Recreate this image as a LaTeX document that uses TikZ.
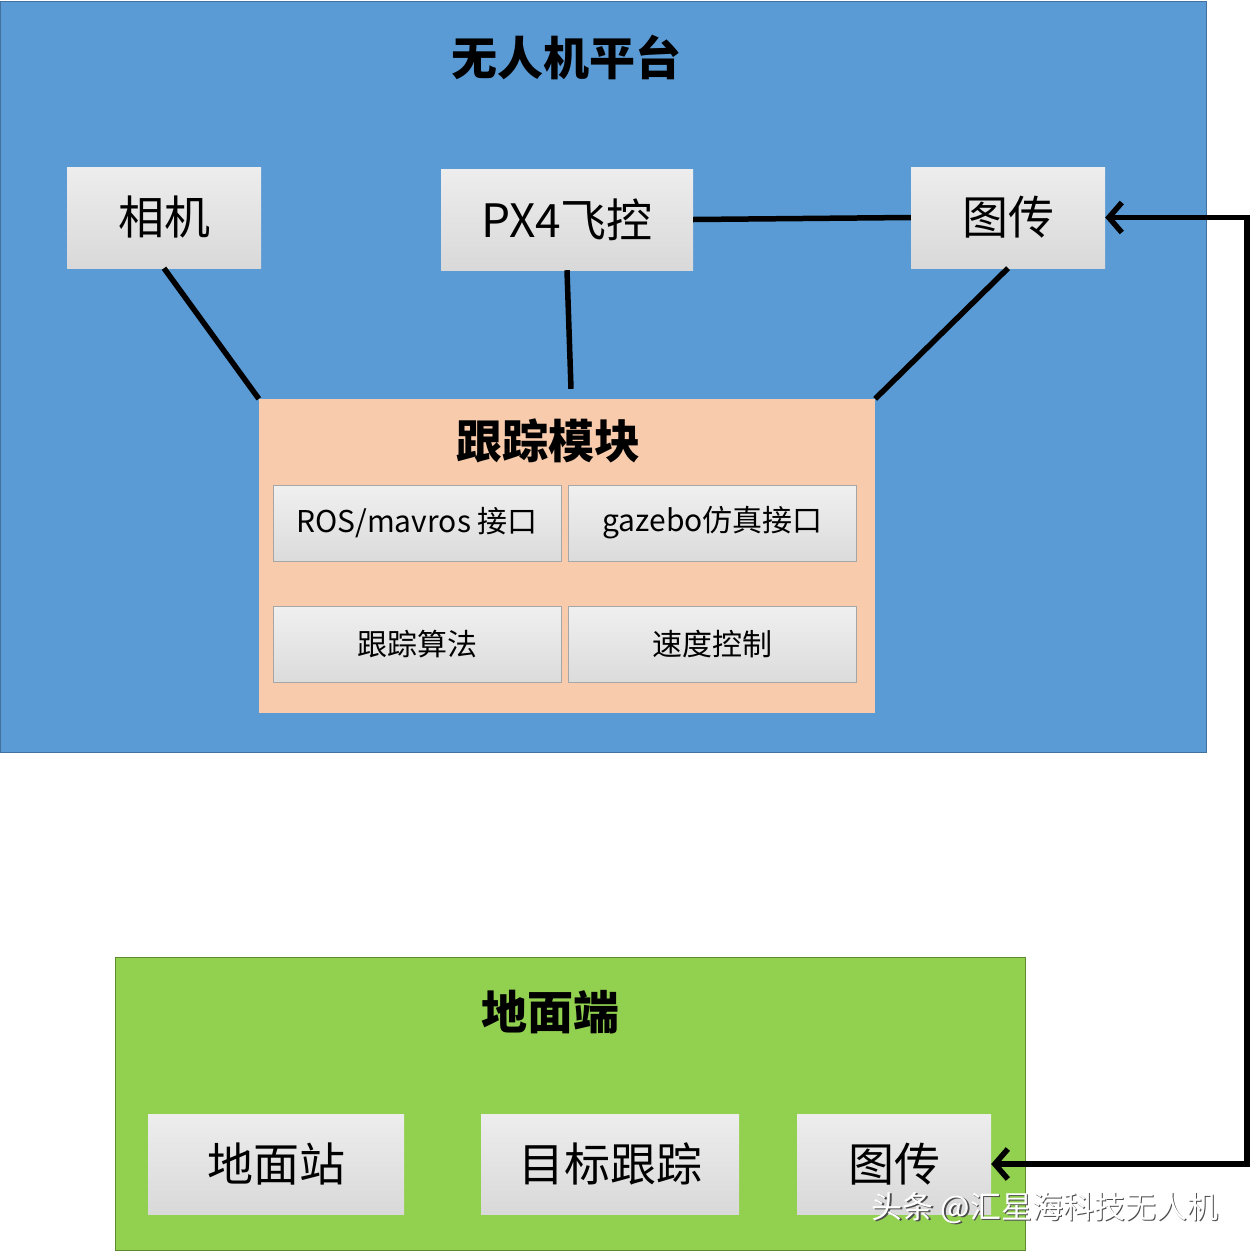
\documentclass[tikz,border=0pt]{standalone}
\usepackage{fontspec}
\setmainfont{Noto Sans CJK SC}
\usetikzlibrary{arrows.meta}
\definecolor{skyblue}{HTML}{5B9BD5}
\definecolor{skyedge}{HTML}{41719C}
\definecolor{salmon}{HTML}{F8CBAD}
\definecolor{leaf}{HTML}{92D050}
\definecolor{leafedge}{HTML}{5E8A2E}
\tikzset{
  grayblock/.style={top color=gray!14, bottom color=gray!30, draw=none, inner sep=0pt, font=\fontsize{46}{50}\selectfont},
  subblock/.style={top color=gray!12, bottom color=gray!28, draw=gray!70, line width=0.8pt, inner sep=0pt, minimum width=288, minimum height=76, font=\fontsize{30}{34}\selectfont},
  link/.style={line width=5.5pt, black},
  title/.style={font=\fontsize{46}{50}\selectfont\bfseries, inner sep=0pt},
}
\begin{document}
\begin{tikzpicture}[x=1pt,y=-1pt]
\useasboundingbox (0,0) rectangle (1252,1254);
\fill[white] (0,0) rectangle (1252,1254);
% platform
\node[draw=skyedge, fill=skyblue, line width=1pt, minimum width=1206, minimum height=751, inner sep=0pt] (plat) at (603.5,376.5) {};
\node[title] (plattitle) at (566,57) {无人机平台};
\node[grayblock, minimum width=194, minimum height=101] (cam) at (164,217.5) {相机};
\node[grayblock, minimum width=252, minimum height=101] (px4) at (567,219.5) {PX4飞控};
\node[grayblock, minimum width=194, minimum height=101] (imgtx) at (1008,217.5) {图传};
% tracking module
\node[fill=salmon, minimum width=616, minimum height=314, inner sep=0pt] (track) at (567,556) {};
\node[title] (tracktitle) at (548,441) {跟踪模块};
\node[subblock] (ros) at (417,523) {ROS/mavros 接口};
\node[subblock] (gaz) at (712.5,523) {gazebo仿真接口};
\node[subblock] (algo) at (417,644.5) {跟踪算法};
\node[subblock] (speed) at (712.5,644.5) {速度控制};
% connectors
\draw[link] (cam.south) -- (track.north west);
\draw[link] (px4.south) -- ([xshift=4pt,yshift=10pt]track.north);
\draw[link] (imgtx.south) -- (track.north east);
\draw[link] (px4.east) -- (imgtx.west);
% ground
\node[draw=leafedge, fill=leaf, line width=1pt, minimum width=910, minimum height=293, inner sep=0pt] (ground) at (570,1103.5) {};
\node[title] (groundtitle) at (550,1012) {地面端};
\node[grayblock, minimum width=256, minimum height=100] (gcs) at (276,1164) {地面站};
\node[grayblock, minimum width=258, minimum height=100] (tgt) at (610,1164) {目标跟踪};
\node[grayblock, minimum width=194, minimum height=100] (gimg) at (894,1164) {图传};
\coordinate (rc) at (1247,700);
\draw[line width=5.5pt, {Straight Barb[length=13pt,width=30pt,line width=5.5pt]}-{Straight Barb[length=13pt,width=30pt,line width=5.5pt]}, line cap=round] (imgtx.east) -| (rc) |- (gimg.east);
% watermark
\node[font=\fontsize{31}{33}\selectfont, text=black!70, inner sep=0pt] (wmshadow) at (1046.5,1209.5) {头条 @汇星海科技无人机};
\node[font=\fontsize{31}{33}\selectfont, text=white, inner sep=0pt] (wm) at (1045,1208) {头条 @汇星海科技无人机};
\end{tikzpicture}
\end{document}
